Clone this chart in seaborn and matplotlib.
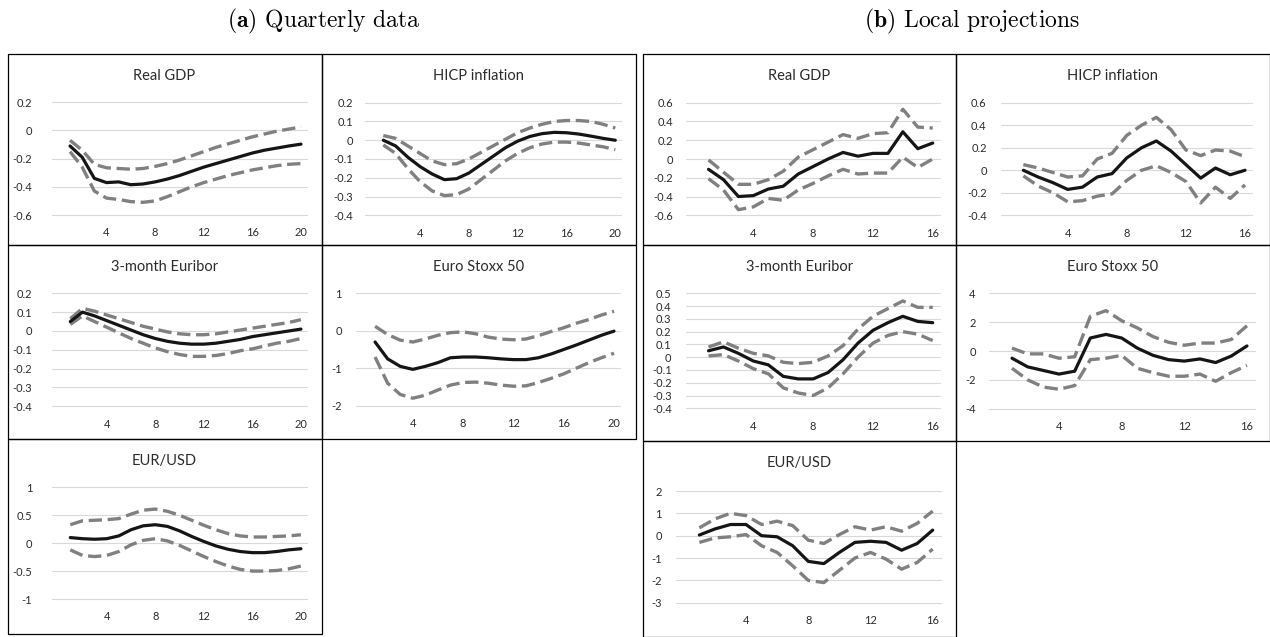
import matplotlib
matplotlib.use("Agg")
import matplotlib.pyplot as plt
import seaborn as sns
from matplotlib.ticker import FixedLocator, FuncFormatter
from matplotlib.patches import Rectangle

sns.set_theme(style="white")
plt.rcParams["font.family"] = ["Lato", "DejaVu Sans"]
plt.rcParams["mathtext.fontset"] = "cm"

# Horizons (quarters)
horizon_var = list(range(1, 21))
horizon_lp = list(range(1, 17))

# (a) Quarterly data: point estimate, upper and lower bands
a_gdp_est = [-0.11, -0.19, -0.34, -0.37, -0.365, -0.385, -0.38, -0.365, -0.345, -0.32,
             -0.29, -0.26, -0.235, -0.21, -0.185, -0.16, -0.14, -0.125, -0.11, -0.097]
a_gdp_hi = [-0.07, -0.14, -0.24, -0.265, -0.27, -0.275, -0.27, -0.255, -0.235, -0.21,
            -0.18, -0.15, -0.12, -0.095, -0.07, -0.045, -0.025, -0.005, 0.01, 0.025]
a_gdp_lo = [-0.15, -0.26, -0.43, -0.48, -0.49, -0.505, -0.51, -0.5, -0.47, -0.435,
            -0.4, -0.37, -0.345, -0.32, -0.3, -0.28, -0.265, -0.25, -0.24, -0.235]

a_hicp_est = [0.0, -0.03, -0.09, -0.14, -0.18, -0.21, -0.205, -0.175, -0.13, -0.085,
              -0.04, -0.005, 0.02, 0.035, 0.042, 0.04, 0.033, 0.022, 0.01, 0.0]
a_hicp_hi = [0.025, 0.01, -0.03, -0.07, -0.11, -0.13, -0.125, -0.1, -0.065, -0.03,
             0.005, 0.04, 0.065, 0.085, 0.1, 0.105, 0.105, 0.1, 0.085, 0.065]
a_hicp_lo = [-0.025, -0.07, -0.15, -0.22, -0.27, -0.295, -0.29, -0.26, -0.21, -0.16,
             -0.11, -0.07, -0.04, -0.02, -0.01, -0.01, -0.015, -0.025, -0.035, -0.05]

a_eur_est = [0.05, 0.1, 0.08, 0.055, 0.03, 0.005, -0.02, -0.04, -0.055, -0.065,
             -0.07, -0.07, -0.065, -0.055, -0.045, -0.03, -0.02, -0.01, 0.0, 0.01]
a_eur_hi = [0.065, 0.12, 0.105, 0.085, 0.065, 0.045, 0.025, 0.01, -0.005, -0.015,
            -0.02, -0.02, -0.015, -0.005, 0.005, 0.015, 0.025, 0.035, 0.045, 0.06]
a_eur_lo = [0.035, 0.08, 0.05, 0.02, -0.01, -0.04, -0.065, -0.09, -0.11, -0.125,
            -0.135, -0.135, -0.13, -0.12, -0.105, -0.095, -0.08, -0.065, -0.055, -0.04]

a_stoxx_est = [-0.3, -0.75, -0.95, -1.03, -0.95, -0.85, -0.72, -0.7, -0.7, -0.72,
               -0.75, -0.77, -0.77, -0.72, -0.62, -0.5, -0.38, -0.25, -0.12, -0.01]
a_stoxx_hi = [0.12, -0.1, -0.25, -0.3, -0.22, -0.12, -0.05, -0.03, -0.08, -0.17,
              -0.22, -0.24, -0.22, -0.13, -0.02, 0.08, 0.2, 0.3, 0.42, 0.52]
a_stoxx_lo = [-0.7, -1.4, -1.7, -1.8, -1.72, -1.58, -1.45, -1.38, -1.37, -1.4,
              -1.45, -1.48, -1.47, -1.38, -1.27, -1.15, -1.0, -0.85, -0.72, -0.6]

a_usd_est = [0.1, 0.08, 0.07, 0.08, 0.13, 0.24, 0.31, 0.33, 0.3, 0.22,
             0.12, 0.03, -0.05, -0.11, -0.15, -0.17, -0.17, -0.15, -0.12, -0.1]
a_usd_hi = [0.33, 0.4, 0.41, 0.42, 0.44, 0.52, 0.59, 0.61, 0.57, 0.5,
            0.41, 0.32, 0.24, 0.17, 0.13, 0.11, 0.11, 0.12, 0.13, 0.15]
a_usd_lo = [-0.12, -0.22, -0.24, -0.22, -0.15, -0.03, 0.05, 0.08, 0.04, -0.04,
            -0.14, -0.24, -0.33, -0.41, -0.47, -0.5, -0.5, -0.49, -0.46, -0.41]

# (b) Local projections
b_gdp_est = [-0.11, -0.22, -0.4, -0.39, -0.32, -0.29, -0.16, -0.08, 0.0, 0.07,
             0.03, 0.06, 0.06, 0.29, 0.11, 0.17]
b_gdp_hi = [-0.01, -0.14, -0.27, -0.27, -0.22, -0.13, 0.02, 0.1, 0.18, 0.26,
            0.22, 0.27, 0.28, 0.53, 0.34, 0.33]
b_gdp_lo = [-0.21, -0.33, -0.54, -0.51, -0.42, -0.44, -0.33, -0.26, -0.18, -0.11,
            -0.16, -0.15, -0.15, 0.02, -0.09, 0.0]

b_hicp_est = [0.0, -0.06, -0.11, -0.17, -0.15, -0.06, -0.03, 0.11, 0.2, 0.26,
              0.17, 0.05, -0.07, 0.02, -0.04, 0.0]
b_hicp_hi = [0.05, 0.02, -0.02, -0.06, -0.05, 0.1, 0.15, 0.31, 0.4, 0.47,
             0.36, 0.18, 0.13, 0.18, 0.17, 0.12]
b_hicp_lo = [-0.05, -0.14, -0.2, -0.28, -0.27, -0.23, -0.21, -0.09, 0.0, 0.04,
             -0.02, -0.1, -0.29, -0.15, -0.25, -0.13]

b_eur_est = [0.05, 0.08, 0.03, -0.03, -0.06, -0.15, -0.17, -0.17, -0.12, -0.02,
             0.11, 0.21, 0.27, 0.32, 0.28, 0.27]
b_eur_hi = [0.08, 0.12, 0.07, 0.03, 0.01, -0.04, -0.05, -0.04, 0.01, 0.09,
            0.22, 0.32, 0.38, 0.44, 0.39, 0.39]
b_eur_lo = [0.01, 0.02, -0.03, -0.09, -0.13, -0.24, -0.28, -0.3, -0.24, -0.13,
            0.0, 0.11, 0.17, 0.2, 0.18, 0.13]

b_stoxx_est = [-0.5, -1.1, -1.35, -1.6, -1.4, 0.9, 1.15, 0.9, 0.2, -0.3,
               -0.6, -0.7, -0.55, -0.8, -0.35, 0.35]
b_stoxx_hi = [0.2, -0.2, -0.2, -0.5, -0.4, 2.4, 2.8, 2.1, 1.6, 1.0,
              0.6, 0.4, 0.55, 0.55, 0.8, 1.75]
b_stoxx_lo = [-1.2, -2.0, -2.5, -2.65, -2.4, -0.6, -0.5, -0.3, -1.2, -1.5,
              -1.75, -1.75, -1.6, -2.1, -1.5, -1.0]

b_usd_est = [0.03, 0.3, 0.5, 0.5, 0.0, -0.05, -0.45, -1.15, -1.25, -0.75,
             -0.3, -0.25, -0.3, -0.65, -0.35, 0.25]
b_usd_hi = [0.35, 0.75, 1.0, 0.9, 0.5, 0.65, 0.45, -0.2, -0.35, 0.05,
            0.4, 0.25, 0.4, 0.2, 0.55, 1.1]
b_usd_lo = [-0.3, -0.1, -0.05, 0.05, -0.45, -0.75, -1.35, -2.0, -2.1, -1.55,
            -1.0, -0.75, -1.05, -1.5, -1.2, -0.6]

# Tick labels
ticks_var = [4, 8, 12, 16, 20]
ticks_lp = [4, 8, 12, 16]
group_titles = [r"$\mathbf{(a)}$ Quarterly data", r"$\mathbf{(b)}$ Local projections"]

W, H = 1270, 637
fig = plt.figure(figsize=(W / 100, H / 100), dpi=100)
fig.patch.set_facecolor("white")


def fx(x):
    return x / W


def fy(y):
    return 1 - y / H


TXT = "#2b2b2b"
GRID = "#d9d9d9"

panels = [
    # title, x, est, hi, lo, yticks, box (x0,y0,x1,y1), plot (l,t,r,b), ypad px, xticks
    ("Real GDP", horizon_var, a_gdp_est, a_gdp_hi, a_gdp_lo,
     [-0.6, -0.4, -0.2, 0, 0.2], (7.5, 54, 321.5, 245), (51.8, 102.3, 307.1, 215), 20, ticks_var),
    ("HICP inflation", horizon_var, a_hicp_est, a_hicp_hi, a_hicp_lo,
     [-0.4, -0.3, -0.2, -0.1, 0, 0.1, 0.2], (321.5, 54, 636, 245), (365, 102.7, 621.4, 215.3), 11.7, ticks_var),
    ("3-month Euribor", horizon_var, a_eur_est, a_eur_hi, a_eur_lo,
     [-0.4, -0.3, -0.2, -0.1, 0, 0.1, 0.2], (7.5, 245, 321.5, 439), (52.1, 293.3, 307, 406.3), 20, ticks_var),
    ("Euro Stoxx 50", horizon_var, a_stoxx_est, a_stoxx_hi, a_stoxx_lo,
     [-2, -1, 0, 1], (321.5, 245, 636, 439), (356.2, 293.3, 620.3, 405.7), 14.5, ticks_var),
    ("EUR/USD", horizon_var, a_usd_est, a_usd_hi, a_usd_lo,
     [-1, -0.5, 0, 0.5, 1], (7.5, 439, 321.5, 634), (52.1, 487.3, 307, 599), 20, ticks_var),
    ("Real GDP", horizon_lp, b_gdp_est, b_gdp_hi, b_gdp_lo,
     [-0.6, -0.4, -0.2, 0, 0.2, 0.4, 0.6], (642.5, 54, 956, 245), (686.1, 102.7, 940.2, 215.3), 13, ticks_lp),
    ("HICP inflation", horizon_lp, b_hicp_est, b_hicp_hi, b_hicp_lo,
     [-0.4, -0.2, 0, 0.2, 0.4, 0.6], (956, 54, 1269.5, 245), (1001.2, 102.7, 1252.4, 215.3), 14.5, ticks_lp),
    ("3-month Euribor", horizon_lp, b_eur_est, b_eur_hi, b_eur_lo,
     [-0.4, -0.3, -0.2, -0.1, 0, 0.1, 0.2, 0.3, 0.4, 0.5], (642.5, 245, 956, 441), (686.1, 293.3, 940.2, 408.3), 14.5, ticks_lp),
    ("Euro Stoxx 50", horizon_lp, b_stoxx_est, b_stoxx_hi, b_stoxx_lo,
     [-4, -2, 0, 2, 4], (956, 245, 1269.5, 441), (988.5, 293.3, 1254.8, 408.7), 12.8, ticks_lp),
    ("EUR/USD", horizon_lp, b_usd_est, b_usd_hi, b_usd_lo,
     [-3, -2, -1, 0, 1, 2], (642.5, 441, 956, 636.5), (676, 491, 940.5, 602.7), 14.3, ticks_lp),
]


def fmt(v, pos):
    s = f"{round(v, 2) + 0.0:g}"
    return "0" if s == "-0" else s


for title, x, est, hi, lo, yticks, box, plot, ypad, xticks in panels:
    bx0, by0, bx1, by1 = box
    fig.add_artist(Rectangle((fx(bx0), fy(by1)), (bx1 - bx0) / W, (by1 - by0) / H,
                             transform=fig.transFigure, fill=False,
                             edgecolor="black", linewidth=0.9))
    fig.text(fx((bx0 + bx1) / 2), fy(by0 + 22), title, ha="center", va="center",
             fontsize=10.5, color=TXT)

    l, t, r, b = plot
    ax = fig.add_axes([fx(l), fy(b), (r - l) / W, (b - t) / H])
    ax.set_facecolor("none")
    for side in ax.spines.values():
        side.set_visible(False)

    sns.lineplot(x=x, y=hi, ax=ax, color="#808080", linewidth=2.4,
                 linestyle=(0, (4, 1.7)), errorbar=None, clip_on=False)
    sns.lineplot(x=x, y=lo, ax=ax, color="#808080", linewidth=2.4,
                 linestyle=(0, (4, 1.7)), errorbar=None, clip_on=False)
    sns.lineplot(x=x, y=est, ax=ax, color="#151515", linewidth=2.3,
                 errorbar=None, clip_on=False)

    ax.set_xlim(-0.5, max(x) + 0.5)
    ax.set_ylim(yticks[0], yticks[-1])
    ax.yaxis.set_major_locator(FixedLocator(yticks))
    ax.yaxis.set_major_formatter(FuncFormatter(fmt))
    ax.set_xticks(xticks)
    ax.set_xticklabels([str(v) for v in xticks])
    ax.grid(axis="y", color=GRID, linewidth=0.8)
    ax.grid(axis="x", visible=False)
    ax.set_axisbelow(True)
    for gl in ax.get_ygridlines():
        gl.set_clip_on(False)
    ax.tick_params(axis="y", length=0, pad=ypad * 0.72, labelsize=8, labelcolor=TXT)
    ax.tick_params(axis="x", length=0, pad=9, labelsize=8, labelcolor=TXT)
    ax.set_xlabel("")
    ax.set_ylabel("")

fig.text(fx(324), fy(21), group_titles[0], ha="center", va="center",
         family="cmr10", fontsize=17, color="black")
fig.text(fx(972), fy(21), group_titles[1], ha="center", va="center",
         family="cmr10", fontsize=17, color="black")

fig.savefig("out.png", dpi=100, facecolor="white")
